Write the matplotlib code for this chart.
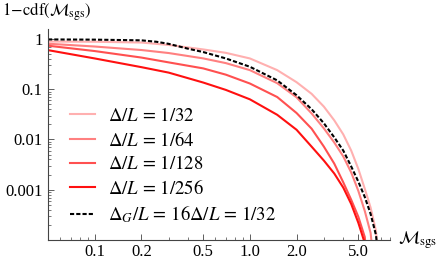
import numpy as np
import matplotlib
matplotlib.use('Agg')
import matplotlib.pyplot as plt
from matplotlib.ticker import FixedLocator, LogLocator, NullFormatter

plt.rcParams['font.family'] = 'serif'
plt.rcParams['font.serif'] = ['Liberation Serif', 'DejaVu Serif']
plt.rcParams['mathtext.fontset'] = 'stix'

# data (x = M_sgs, y = 1-cdf)
x_common = [0.05, 0.1, 0.2, 0.3, 0.5, 0.7, 1.0, 1.5, 2.0, 2.5, 3.0, 3.5, 4.0, 4.5, 5.0, 5.5, 6.0, 6.5]

x_32 = x_common + [6.8]
y_32 = [0.89, 0.88, 0.85, 0.76, 0.62, 0.53, 0.41, 0.24, 0.138, 0.081, 0.045, 0.024,
        0.0126, 0.006, 0.0026, 0.00105, 0.00044, 0.00015, 0.00003]

x_64 = x_common[:17] + [6.4]
y_64 = [0.805, 0.708, 0.603, 0.525, 0.411, 0.331, 0.240, 0.132, 0.069, 0.033, 0.0166,
        0.0087, 0.0046, 0.0022, 0.00095, 0.00038, 0.000138, 0.00002]

x_128 = x_common[:16] + [5.8]
y_128 = [0.735, 0.575, 0.427, 0.342, 0.26, 0.195, 0.13, 0.070, 0.0336, 0.0164, 0.0072,
         0.0033, 0.0014, 0.00063, 0.00029, 0.000115, 0.00002]

x_256 = x_common[:16] + [5.7]
y_256 = [0.60, 0.41, 0.275, 0.214, 0.136, 0.097, 0.063, 0.031, 0.0156, 0.0072, 0.0038,
         0.0021, 0.0011, 0.00052, 0.00022, 0.000087, 0.00001]

x_G = [0.05, 0.1, 0.2, 0.25, 0.3, 0.4, 0.5, 0.7, 1.0, 1.5, 2.0, 2.5, 3.0, 3.5, 4.0,
       4.5, 5.0, 5.5, 6.0, 6.5, 6.8]
y_G = [0.98, 0.97, 0.94, 0.88, 0.80, 0.64, 0.55, 0.41, 0.28, 0.15, 0.076, 0.040, 0.021,
       0.011, 0.0060, 0.0029, 0.00145, 0.00072, 0.00033, 0.000125, 0.00003]

labels = [r'$\Delta/L\, =\, 1/32$', r'$\Delta/L\, =\, 1/64$', r'$\Delta/L\, =\, 1/128$',
          r'$\Delta/L\, =\, 1/256$', r'$\Delta_G/L\, =\, 16\Delta/L\, =\, 1/32$']
colors = ['#ffb0b0', '#ff8080', '#ff5050', '#ff1010']

xticks = [0.1, 0.2, 0.5, 1.0, 2.0, 5.0]
xticklabels = ['0.1', '0.2', '0.5', '1.0', '2.0', '5.0']
yticks = [1, 0.1, 0.01, 0.001]
yticklabels = ['1', '0.1', '0.01', '0.001']

W, H = 436, 263
fig = plt.figure(figsize=(W / 100, H / 100), dpi=100)
ax = fig.add_axes([48 / W, (H - 240) / H, (390 - 48) / W, (240 - 29) / H])

for xs, ys, c, lab in zip([x_32, x_64, x_128, x_256], [y_32, y_64, y_128, y_256], colors, labels):
    ax.plot(xs, ys, color=c, lw=1.5, label=lab)
ax.plot(x_G, y_G, color='black', lw=1.5, ls=(0, (2, 1)), label=labels[4])

ax.set_xscale('log')
ax.set_yscale('log')
ax.set_xlim(0.05, 8)
ax.set_ylim(1e-4, 1.58)

ax.xaxis.set_major_locator(FixedLocator(xticks))
ax.set_xticklabels(xticklabels)
ax.xaxis.set_minor_locator(LogLocator(base=10, subs=np.arange(2, 10)))
ax.xaxis.set_minor_formatter(NullFormatter())
ax.yaxis.set_major_locator(FixedLocator(yticks))
ax.set_yticklabels(yticklabels)
ax.yaxis.set_minor_locator(LogLocator(base=10, subs=np.arange(2, 10)))
ax.yaxis.set_minor_formatter(NullFormatter())

for s in ['top', 'right']:
    ax.spines[s].set_visible(False)
for s in ['left', 'bottom']:
    ax.spines[s].set_color('#444444')
    ax.spines[s].set_linewidth(0.8)
ax.tick_params(which='major', direction='in', length=4, width=0.6, color='#444444',
               labelsize=12, pad=4)
ax.tick_params(which='minor', direction='in', length=2, width=0.5, color='#444444')
ax.tick_params(axis='x', pad=3)

leg = ax.legend(loc='upper left', bbox_to_anchor=(70 / W, 1 - 107 / H),
                bbox_transform=fig.transFigure, frameon=False, fontsize=13.5,
                handlelength=1.35, handletextpad=0.7, labelspacing=0.3,
                borderpad=0, borderaxespad=0)

fig.text(398 / W, 1 - 240 / H, r'$\mathcal{M}_{\rm sgs}$', fontsize=13,
         ha='left', va='center')
fig.text(2 / W, 1 - 12 / H, r'$1\!-\!{\rm cdf}(\mathcal{M}_{\rm sgs})$', fontsize=12,
         ha='left', va='center')

fig.savefig('out.png', dpi=100)
